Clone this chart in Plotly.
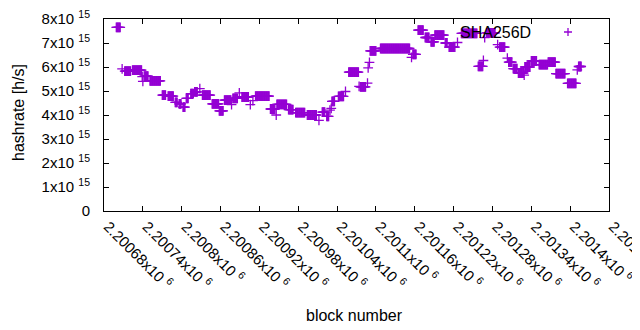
import plotly.graph_objects as go

# ---- data ----
# runs of consecutive blocks that share the same hashrate (x1e15 h/s)
run_start = [2200699, 2200712, 2200724, 2200742, 2200751, 2200770, 2200779, 2200790,
             2200796, 2200802, 2200807, 2200814, 2200820, 2200832, 2200847, 2200858,
             2200866, 2200879, 2200893, 2200914, 2200937, 2200947, 2200965, 2200976,
             2200994, 2201017, 2201024, 2201032, 2201042, 2201058, 2201076, 2201091,
             2201107, 2201157, 2201165, 2201176, 2201185, 2201191, 2201207, 2201213,
             2201232, 2201258, 2201271, 2201291, 2201305, 2201312, 2201320, 2201330,
             2201340, 2201352, 2201366, 2201378, 2201396, 2201413]
run_end = [2200705, 2200721, 2200738, 2200748, 2200767, 2200775, 2200787, 2200793,
           2200799, 2200805, 2200810, 2200818, 2200824, 2200844, 2200857, 2200864,
           2200876, 2200886, 2200903, 2200935, 2200944, 2200962, 2200972, 2200990,
           2201008, 2201021, 2201027, 2201036, 2201050, 2201073, 2201084, 2201100,
           2201152, 2201162, 2201173, 2201182, 2201190, 2201205, 2201210, 2201222,
           2201256, 2201265, 2201284, 2201299, 2201310, 2201318, 2201328, 2201338,
           2201348, 2201365, 2201377, 2201392, 2201409, 2201417]
run_value = [7.65, 5.83, 5.87, 5.62, 5.42, 4.83, 4.79, 4.53,
             4.46, 4.33, 4.69, 4.89, 4.96, 4.83, 4.46, 4.17,
             4.62, 4.69, 4.75, 4.79, 4.25, 4.44, 4.22, 4.10,
             4.00, 4.12, 3.94, 4.57, 4.78, 5.79, 5.17, 6.67,
             6.77, 6.53, 7.54, 7.23, 7.05, 7.33, 7.00, 6.83,
             7.40, 6.03, 7.42, 6.83, 6.20, 5.93, 5.75, 6.00,
             6.25, 6.10, 6.20, 5.72, 5.32, 6.02]

# single blocks
pt_block = [2200708, 2200739, 2200740, 2200828, 2200877, 2200889, 2200906, 2200910,
            2200946, 2201012, 2201029, 2201031, 2201053, 2201074, 2201087, 2201088,
            2201090, 2201155, 2201226, 2201266, 2201268, 2201288, 2201303, 2201329,
            2201411]
pt_value = [5.92, 5.60, 5.40, 5.10, 4.43, 4.92, 4.43, 4.60,
            4.00, 3.78, 4.20, 4.28, 4.98, 5.19, 5.33, 5.96,
            6.19, 6.40, 7.02, 6.27, 7.22, 6.93, 6.37, 5.66,
            5.88]

x_tickvals = [2200680, 2200740, 2200800, 2200860, 2200920, 2200980, 2201040,
              2201100, 2201160, 2201220, 2201280, 2201340, 2201400, 2201460]
x_ticklabels = ["2.20068", "2.20074", "2.2008", "2.20086", "2.20092", "2.20098", "2.20104",
                "2.2011", "2.20116", "2.20122", "2.20128", "2.20134", "2.2014", "2.20146"]
y_tickvals = [0, 1, 2, 3, 4, 5, 6, 7, 8]

series_name = "SHA256D"
SCALE = 1e15

# expand runs block by block
xs, ys = [], []
for s, e, v in zip(run_start, run_end, run_value):
    for b in range(s, e + 1):
        xs.append(b)
        ys.append(v * SCALE)
for b, v in zip(pt_block, pt_value):
    xs.append(b)
    ys.append(v * SCALE)

COLOR = "#9400D3"
FONT = "Liberation Sans, Arial, sans-serif"

# the page body has an 8px margin; lay the figure out in window pixels
OFF = 8
WIN_W, WIN_H = 640, 330
W, H = WIN_W - OFF, WIN_H - OFF
PL, PR, PT, PB = 104, 609, 19, 211   # plot area edges in window pixels
L, R, T, B = PL - OFF, W - (PR - OFF), PT - OFF, H - (PB - OFF)
pw, ph = W - L - R, H - T - B

def px2paper(px, py):
    return (px - PL) / pw, (PB - py) / ph

fig = go.Figure()
fig.add_trace(go.Scatter(
    x=xs, y=ys, mode="markers", name=series_name, showlegend=False,
    marker=dict(symbol="cross-thin", size=7, color=COLOR,
                line=dict(color=COLOR, width=1.3)),
))

fig.update_layout(
    width=W, height=H,
    margin=dict(l=L, r=R, t=T, b=B),
    paper_bgcolor="white", plot_bgcolor="white",
    font=dict(family=FONT, size=15, color="black"),
    showlegend=False,
)
fig.update_xaxes(
    range=[x_tickvals[0], x_tickvals[-1]],
    tickmode="array", tickvals=x_tickvals,
    ticktext=[t + "x10 <sup>6</sup>" for t in x_ticklabels],
    tickangle=45, ticks="inside", ticklen=5, tickcolor="black",
    showline=True, linecolor="black", linewidth=1, mirror="ticks",
    showgrid=False, zeroline=False, automargin=False,
    ticklabeloverflow="allow", ticklabelshift=4,
    tickfont=dict(family=FONT, size=15),
)
fig.update_yaxes(
    range=[0, 8 * SCALE],
    tickmode="array", tickvals=[v * SCALE for v in y_tickvals],
    ticktext=["0" if v == 0 else f"{v}x10 <sup>15</sup>" for v in y_tickvals],
    ticks="inside", ticklen=5, tickcolor="black",
    showline=True, linecolor="black", linewidth=1, mirror="ticks",
    showgrid=False, zeroline=False, ticklabelstandoff=10, automargin=False,
    ticklabeloverflow="allow",
    tickfont=dict(family=FONT, size=15),
)

ax, ay = px2paper(354, 315)
bx, by = px2paper(18, 113)
kx, ky = px2paper(533, 32)
sx, sy = px2paper(568, 32)
fig.add_annotation(x=ax, y=ay, xref="paper", yref="paper", text="block number",
                   showarrow=False, xanchor="center", yanchor="middle",
                   font=dict(family=FONT, size=16))
fig.add_annotation(x=bx, y=by, xref="paper", yref="paper", text="hashrate [h/s]",
                   showarrow=False, xanchor="center", yanchor="middle", textangle=-90,
                   font=dict(family=FONT, size=16))
fig.add_annotation(x=kx, y=ky, xref="paper", yref="paper", text=series_name,
                   showarrow=False, xanchor="right", yanchor="middle",
                   font=dict(family=FONT, size=16))
hx, hy = 4 / pw, 4 / ph
fig.add_shape(type="path", xref="paper", yref="paper",
              path=f"M {sx-hx},{sy} L {sx+hx},{sy} M {sx},{sy-hy} L {sx},{sy+hy}",
              line=dict(color=COLOR, width=1.3))

fig.write_html("out.html")
